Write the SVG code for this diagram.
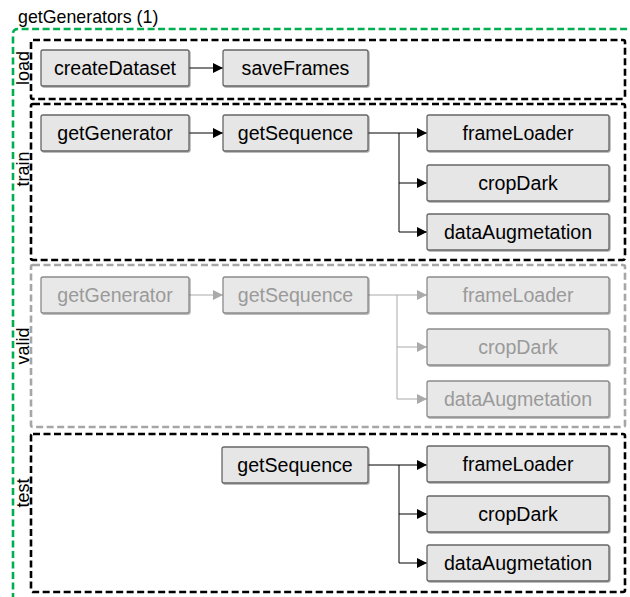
<svg xmlns="http://www.w3.org/2000/svg" width="630" height="597" viewBox="0 0 630 597">
  <style>
    text { font-family: "Liberation Sans", Arial, sans-serif; }
    .title { font-size: 17.8px; fill: #000; }
    .lane { font-size: 18px; fill: #000; text-anchor: middle; }
    .node rect { fill: #e6e6e6; stroke: #666; stroke-width: 1.3; }
    .node text { font-size: 19.6px; fill: #000; text-anchor: middle; }
    .dim rect { fill: #e8e8e8; stroke: #8a8a8a; }
    .dim text { fill: #9a9a9a; }
    .lanebox { fill: none; stroke: #000; stroke-width: 2.6; stroke-dasharray: 7 3.5; }
    .lanebox.dim { stroke: #a6a6a6; }
    .edge { fill: none; stroke: #000; stroke-width: 1; }
    .edge.dim { stroke: #aaaaaa; }
  </style>
  <defs>
    <marker id="arrow" viewBox="0 0 10 10" refX="10" refY="5" markerWidth="12" markerHeight="10" markerUnits="userSpaceOnUse" orient="auto">
      <path d="M0,0 L10,5 L0,10 z" fill="#000"/>
    </marker>
    <marker id="arrowDim" viewBox="0 0 10 10" refX="10" refY="5" markerWidth="12" markerHeight="10" markerUnits="userSpaceOnUse" orient="auto">
      <path d="M0,0 L10,5 L0,10 z" fill="#aaaaaa"/>
    </marker>
    <filter id="shadow" x="-5%" y="-10%" width="112%" height="130%">
      <feDropShadow dx="1" dy="1" stdDeviation="0.6" flood-color="#000" flood-opacity="0.35"/>
    </filter>
  </defs>

  <!-- outer frame: getGenerators -->
  <g id="getGenerators">
    <path d="M13,600 L13,34 Q13,29 18,29 L640,29" fill="none" stroke="#00b050" stroke-width="2.6" stroke-dasharray="7 3.5"/>
    <text class="title" x="18" y="23">getGenerators (1)</text>
  </g>

  <!-- lanes -->
  <g id="lane-load">
    <rect class="lanebox" x="31" y="40" width="594" height="59" rx="2"/>
    <text class="lane" transform="translate(28.5,68) rotate(-90)">load</text>
  </g>
  <g id="lane-train">
    <rect class="lanebox" x="31" y="104" width="594" height="156" rx="2"/>
    <text class="lane" transform="translate(28.5,169) rotate(-90)">train</text>
  </g>
  <g id="lane-valid">
    <rect class="lanebox dim" x="31" y="265" width="594" height="162" rx="2"/>
    <text class="lane" transform="translate(28.5,346) rotate(-90)">valid</text>
  </g>
  <g id="lane-test">
    <rect class="lanebox" x="31" y="434" width="594" height="158" rx="2"/>
    <text class="lane" transform="translate(28.5,493) rotate(-90)">test</text>
  </g>

  <!-- connectors -->
  <g id="connectors">
    <!-- load -->
    <line class="edge" x1="189" y1="68" x2="223" y2="68" marker-end="url(#arrow)"/>
    <!-- train -->
    <line class="edge" x1="189" y1="133" x2="223" y2="133" marker-end="url(#arrow)"/>
    <line class="edge" x1="368" y1="133" x2="427" y2="133" marker-end="url(#arrow)"/>
    <polyline class="edge" points="399,133 399,232 427,232" marker-end="url(#arrow)"/>
    <line class="edge" x1="399" y1="183" x2="427" y2="183" marker-end="url(#arrow)"/>
    <!-- valid -->
    <line class="edge dim" x1="189" y1="295" x2="223" y2="295" marker-end="url(#arrowDim)"/>
    <line class="edge dim" x1="368" y1="295" x2="427" y2="295" marker-end="url(#arrowDim)"/>
    <polyline class="edge dim" points="397,295 397,399 427,399" marker-end="url(#arrowDim)"/>
    <line class="edge dim" x1="397" y1="347" x2="427" y2="347" marker-end="url(#arrowDim)"/>
    <!-- test -->
    <line class="edge" x1="368" y1="465" x2="427" y2="465" marker-end="url(#arrow)"/>
    <polyline class="edge" points="399,465 399,563 427,563" marker-end="url(#arrow)"/>
    <line class="edge" x1="399" y1="514" x2="427" y2="514" marker-end="url(#arrow)"/>
  </g>

  <!-- load nodes -->
  <g id="load-createDataset" class="node">
    <rect x="41" y="50" width="148" height="36" rx="2" filter="url(#shadow)"/>
    <text x="115" y="75">createDataset</text>
  </g>
  <g id="load-saveFrames" class="node">
    <rect x="223" y="50" width="145" height="36" rx="2" filter="url(#shadow)"/>
    <text x="295.5" y="75">saveFrames</text>
  </g>

  <!-- train nodes -->
  <g id="train-getGenerator" class="node">
    <rect x="41" y="115" width="148" height="36" rx="2" filter="url(#shadow)"/>
    <text x="115" y="140">getGenerator</text>
  </g>
  <g id="train-getSequence" class="node">
    <rect x="223" y="115" width="145" height="36" rx="2" filter="url(#shadow)"/>
    <text x="295.5" y="140">getSequence</text>
  </g>
  <g id="train-frameLoader" class="node">
    <rect x="427" y="115" width="182" height="36" rx="2" filter="url(#shadow)"/>
    <text x="518" y="140">frameLoader</text>
  </g>
  <g id="train-cropDark" class="node">
    <rect x="427" y="165" width="182" height="36" rx="2" filter="url(#shadow)"/>
    <text x="518" y="190">cropDark</text>
  </g>
  <g id="train-dataAugmetation" class="node">
    <rect x="427" y="214" width="182" height="36" rx="2" filter="url(#shadow)"/>
    <text x="518" y="239">dataAugmetation</text>
  </g>

  <!-- valid nodes (inactive) -->
  <g id="valid-getGenerator" class="node dim">
    <rect x="41" y="277" width="148" height="36" rx="2" filter="url(#shadow)"/>
    <text x="115" y="302">getGenerator</text>
  </g>
  <g id="valid-getSequence" class="node dim">
    <rect x="223" y="277" width="145" height="36" rx="2" filter="url(#shadow)"/>
    <text x="295.5" y="302">getSequence</text>
  </g>
  <g id="valid-frameLoader" class="node dim">
    <rect x="427" y="277" width="182" height="36" rx="2" filter="url(#shadow)"/>
    <text x="518" y="302">frameLoader</text>
  </g>
  <g id="valid-cropDark" class="node dim">
    <rect x="427" y="329" width="182" height="36" rx="2" filter="url(#shadow)"/>
    <text x="518" y="354">cropDark</text>
  </g>
  <g id="valid-dataAugmetation" class="node dim">
    <rect x="427" y="381" width="182" height="36" rx="2" filter="url(#shadow)"/>
    <text x="518" y="406">dataAugmetation</text>
  </g>

  <!-- test nodes -->
  <g id="test-getSequence" class="node">
    <rect x="222" y="447" width="146" height="36" rx="2" filter="url(#shadow)"/>
    <text x="295" y="472">getSequence</text>
  </g>
  <g id="test-frameLoader" class="node">
    <rect x="427" y="446" width="182" height="36" rx="2" filter="url(#shadow)"/>
    <text x="518" y="471">frameLoader</text>
  </g>
  <g id="test-cropDark" class="node">
    <rect x="427" y="496" width="182" height="36" rx="2" filter="url(#shadow)"/>
    <text x="518" y="521">cropDark</text>
  </g>
  <g id="test-dataAugmetation" class="node">
    <rect x="427" y="545" width="182" height="36" rx="2" filter="url(#shadow)"/>
    <text x="518" y="570">dataAugmetation</text>
  </g>
</svg>
